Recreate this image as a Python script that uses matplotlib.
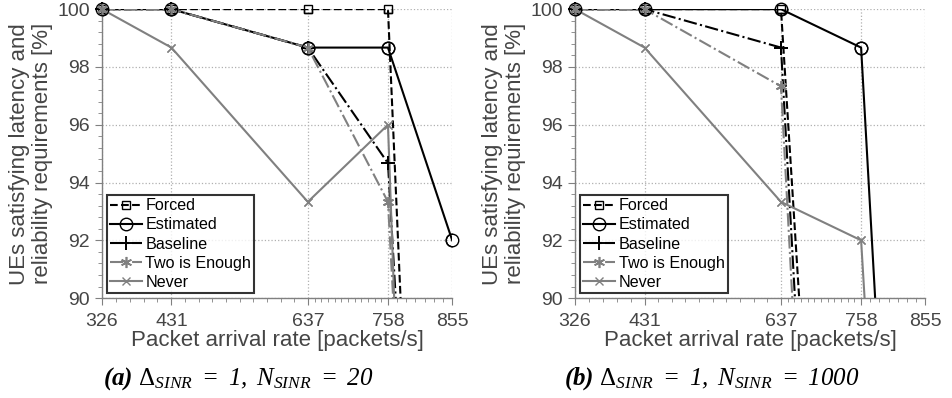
import matplotlib
matplotlib.use('Agg')
import matplotlib.pyplot as plt
import numpy as np

plt.rcParams['font.family'] = ['Liberation Sans', 'DejaVu Sans']
plt.rcParams['mathtext.fontset'] = 'custom'
plt.rcParams['mathtext.rm'] = 'Liberation Serif:italic'
plt.rcParams['mathtext.it'] = 'Liberation Serif:italic'
plt.rcParams['mathtext.sf'] = 'Liberation Serif'
plt.rcParams['mathtext.bf'] = 'Liberation Serif:bold:italic'

# packet arrival rates (x ticks)
rates = [326, 431, 637, 758, 855]

# (a) delta_SINR = 1, N_SINR = 20
forced_a = [100, 100, 100, 100, 49]
estimated_a = [100, 100, 98.67, 98.67, 92]
baseline_a = [100, 100, 98.67, 94.67, 56]
two_a = [100, 100, 98.67, 93.33, 52]
never_a = [100, 98.67, 93.33, 96, 34]

# (b) delta_SINR = 1, N_SINR = 1000
forced_b = [100, 100, 100, 56, 20]
estimated_b = [100, 100, 100, 98.67, 59]
baseline_b = [100, 100, 98.67, 49, 10]
two_b = [100, 100, 97.33, 45.5, 4]
never_b = [100, 98.67, 93.33, 92, 55]

names = ['Forced', 'Estimated', 'Baseline', 'Two is Enough', 'Never']
captions = [r'$\mathbf{(a)}\ \mathsf{\Delta}_{SINR}\ {=}\ 1,\ N_{SINR}\ {=}\ 20$',
            r'$\mathbf{(b)}\ \mathsf{\Delta}_{SINR}\ {=}\ 1,\ N_{SINR}\ {=}\ 1000$']

gray = '#808080'
styles = [
    dict(color='black', ls='--', marker='s', ms=6, mfc='none'),
    dict(color='black', ls='-', marker='o', ms=9, mfc='none'),
    dict(color='black', ls='-.', marker='+', ms=10, mew=1.4),
    dict(color=gray, ls='-.', marker=(6, 2, 0), ms=8, mew=1.2),
    dict(color=gray, ls='-', marker='x', ms=6),
]

fig = plt.figure(figsize=(9.52, 3.98), dpi=100)
axes = [fig.add_axes([0.107, 0.251, 0.368, 0.726]),
        fig.add_axes([0.604, 0.251, 0.368, 0.726])]

panels = [[forced_a, estimated_a, baseline_a, two_a, never_a],
          [forced_b, estimated_b, baseline_b, two_b, never_b]]

# minor tick positions: subdivide each major interval
minor_parts = [5, 10, 12, 7]
minor_x = np.concatenate([np.linspace(rates[i], rates[i + 1], n + 1)
                          for i, n in enumerate(minor_parts)])

for ax, series, cap, cx in zip(axes, panels, captions, [0.25, 0.748]):
    x = np.array(rates)
    for vals, name, st in zip(series, names, styles):
        y = np.array(vals)
        ax.plot(x, y, lw=1.5, label=name, **st)
        keep = (y >= 90) & (y <= 100)
        ax.plot(x[keep], y[keep], ls='none', clip_on=False, zorder=4,
                **{k: v for k, v in st.items() if k != 'ls'})

    ax.set_xlim(326, 855)
    ax.set_ylim(90, 100)
    ax.set_xticks(rates)
    ax.set_xticks(minor_x, minor=True)
    ax.set_yticks(np.arange(90, 101, 2))
    ax.set_yticks(np.arange(90, 100.01, 0.4), minor=True)
    ax.grid(True, which='major', ls=':', color='#b0b0b0', lw=0.9)
    for s in ['top', 'right']:
        ax.spines[s].set_visible(False)
    for s in ['left', 'bottom']:
        ax.spines[s].set_color(gray)
        ax.spines[s].set_linewidth(1.0)
    ax.tick_params(which='both', direction='out', colors=gray,
                   labelcolor='#454545', labelsize=14)
    ax.tick_params(which='major', length=5)
    ax.tick_params(which='minor', length=3)
    ax.tick_params(axis='x', pad=6)
    ax.set_xlabel('Packet arrival rate [packets/s]', fontsize=16,
                  color='#454545', labelpad=0)
    ax.set_ylabel('UEs satisfying latency and\nreliability requirements [%]',
                  fontsize=16, color='#454545', labelpad=3, linespacing=1.15)

    leg = ax.legend(loc='lower left', fontsize=11.6, frameon=True, fancybox=False,
                    borderaxespad=0.3, labelspacing=0.26, handlelength=2.0,
                    handletextpad=0.2, borderpad=0.2)
    leg.get_frame().set_edgecolor('black')
    leg.get_frame().set_linewidth(1.5)
    leg.set_zorder(5)

    fig.text(cx, 0.05, cap, ha='center', va='center', fontsize=18)

fig.savefig('out.png', dpi=100)
